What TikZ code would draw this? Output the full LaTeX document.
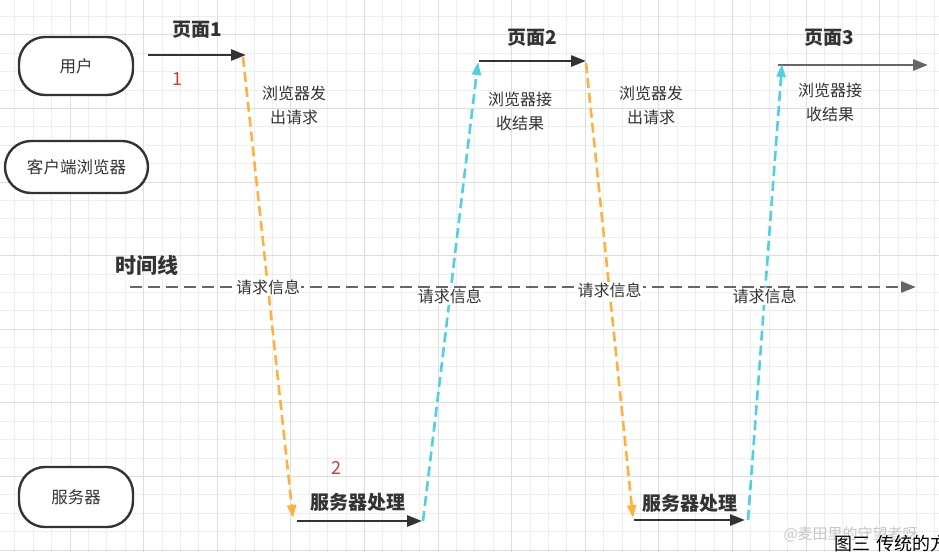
\documentclass[tikz,border=0pt]{standalone}
\usepackage{fontspec}
\setmainfont{Noto Sans CJK SC}
\usetikzlibrary{arrows.meta}
\definecolor{ink}{HTML}{333333}
\definecolor{gridminor}{HTML}{EEEEEE}
\definecolor{gridmajor}{HTML}{DEDEDE}
\definecolor{req}{HTML}{FFB13D}
\definecolor{resp}{HTML}{4FD1E0}
\definecolor{tline}{HTML}{666666}
\definecolor{numred}{HTML}{C43C3C}
\tikzset{
  role/.style={draw=ink, line width=2.4pt, rounded corners=26pt, fill=white,
    minimum width=114pt, minimum height=58pt, text=ink,
    font=\fontsize{16.5}{19}\selectfont},
  pagearrow/.style={draw=ink, line width=2.7pt, -{Triangle[length=15pt,width=11pt]}},
  reqline/.style={draw=req, line width=2.6pt, dash pattern=on 10pt off 5pt,
    -{Triangle[length=13pt,width=9pt]}},
  respline/.style={draw=resp, line width=2.6pt, dash pattern=on 10pt off 5pt,
    -{Triangle[length=13pt,width=9pt]}},
  timeline/.style={draw=tline, line width=2.7pt, dash pattern=on 12pt off 6pt,
    -{Triangle[length=15pt,width=11pt]}},
  boldlbl/.style={text=ink, font=\fontsize{19}{22}\selectfont\bfseries},
  plainlbl/.style={text=ink, align=center, font=\fontsize{16}{24}\selectfont},
  reqlbl/.style={fill=white, text=ink, inner sep=1pt, font=\fontsize{16}{19}\selectfont},
  numlbl/.style={text=numred, font=\fontsize{18}{21}\selectfont},
}
\begin{document}
\begin{tikzpicture}[x=1pt,y=-1pt]
\clip (0,0) rectangle (939,552);
\fill[white] (0,0) rectangle (939,552);
% grid
\foreach \i in {-4,...,48} {
  \draw[gridminor, line width=0.8pt] ({70+18.4*\i},0) -- ({70+18.4*\i},552);
}
\foreach \j in {0,...,30} {
  \draw[gridminor, line width=0.8pt] (0,{550-18.4*\j}) -- (939,{550-18.4*\j});
}
\foreach \i in {-1,...,12} {
  \draw[gridmajor, line width=0.9pt] ({70+73.6*\i},0) -- ({70+73.6*\i},552);
}
\foreach \j in {0,...,7} {
  \draw[gridmajor, line width=0.9pt] (0,{550-73.6*\j}) -- (939,{550-73.6*\j});
}

% role boxes
\node[role] (user) at (76,66) {用户};
\node[role, minimum width=143pt, minimum height=52pt] (browser) at (76.5,167) {客户端浏览器};
\node[role, minimum height=60pt] (server) at (76,497) {服务器};

% key points
\coordinate (p1s) at (148,55);
\coordinate (p1e) at (246,55);
\coordinate (o1s) at (243,57);
\coordinate (o1e) at (293,518);
\coordinate (s1s) at (297,521);
\coordinate (s1e) at (422,521);
\coordinate (c1s) at (423,521);
\coordinate (c1e) at (478,62);
\coordinate (p2s) at (479,61);
\coordinate (p2e) at (586,61);
\coordinate (o2s) at (586,63);
\coordinate (o2e) at (633,518);
\coordinate (s2s) at (634,520);
\coordinate (s2e) at (745,520);
\coordinate (c2s) at (748,520);
\coordinate (c2e) at (782,64);
\coordinate (p3s) at (778,65);
\coordinate (p3e) at (928,65);
\coordinate (ts) at (130,287);
\coordinate (te) at (916,287);

% timeline
\draw[timeline] (ts) -- (te);
\node[boldlbl, font=\fontsize{21}{24}\selectfont\bfseries] (tl) at (147,265) {时间线};

% page arrows
\draw[pagearrow] (p1s) -- (p1e);
\node[boldlbl] (pg1) at (197,30) {页面1};
\draw[pagearrow] (p2s) -- (p2e);
\node[boldlbl] (pg2) at (532,38) {页面2};
\draw[pagearrow, draw=tline] (p3s) -- (p3e);
\node[boldlbl] (pg3) at (829,38) {页面3};

% server arrows
\draw[pagearrow] (s1s) -- (s1e);
\node[boldlbl] (sv1) at (358,502) {服务器处理};
\draw[pagearrow] (s2s) -- (s2e);
\node[boldlbl] (sv2) at (690,503) {服务器处理};

% request / response lines
\draw[reqline] (o1s) -- node[reqlbl, pos=0.5] (r1) {请求信息} (o1e);
\draw[respline] (c1s) -- node[reqlbl, pos=0.49] (r2) {请求信息} (c1e);
\draw[reqline] (o2s) -- node[reqlbl, pos=0.5] (r3) {请求信息} (o2e);
\draw[respline] (c2s) -- node[reqlbl, pos=0.49] (r4) {请求信息} (c2e);

% explanatory labels
\node[plainlbl] (b1) at (294,105) {浏览器发\\出请求};
\node[plainlbl] (b2) at (520,111) {浏览器接\\收结果};
\node[plainlbl] (b3) at (651,105) {浏览器发\\出请求};
\node[plainlbl] (b4) at (830,102) {浏览器接\\收结果};

% step numbers
\node[numlbl] (n1) at (177,79) {1};
\node[numlbl] (n2) at (336,468) {2};

% watermark and caption
\node[text=black!22, anchor=west, font=\fontsize{15}{18}\selectfont] (wm) at (780,534) {@麦田里的守望者呀};
\node[text=black, anchor=west, font=\fontsize{18}{21}\selectfont] (cap) at (831,544) {图三\hspace{6pt}传统的方式};
\end{tikzpicture}
\end{document}
